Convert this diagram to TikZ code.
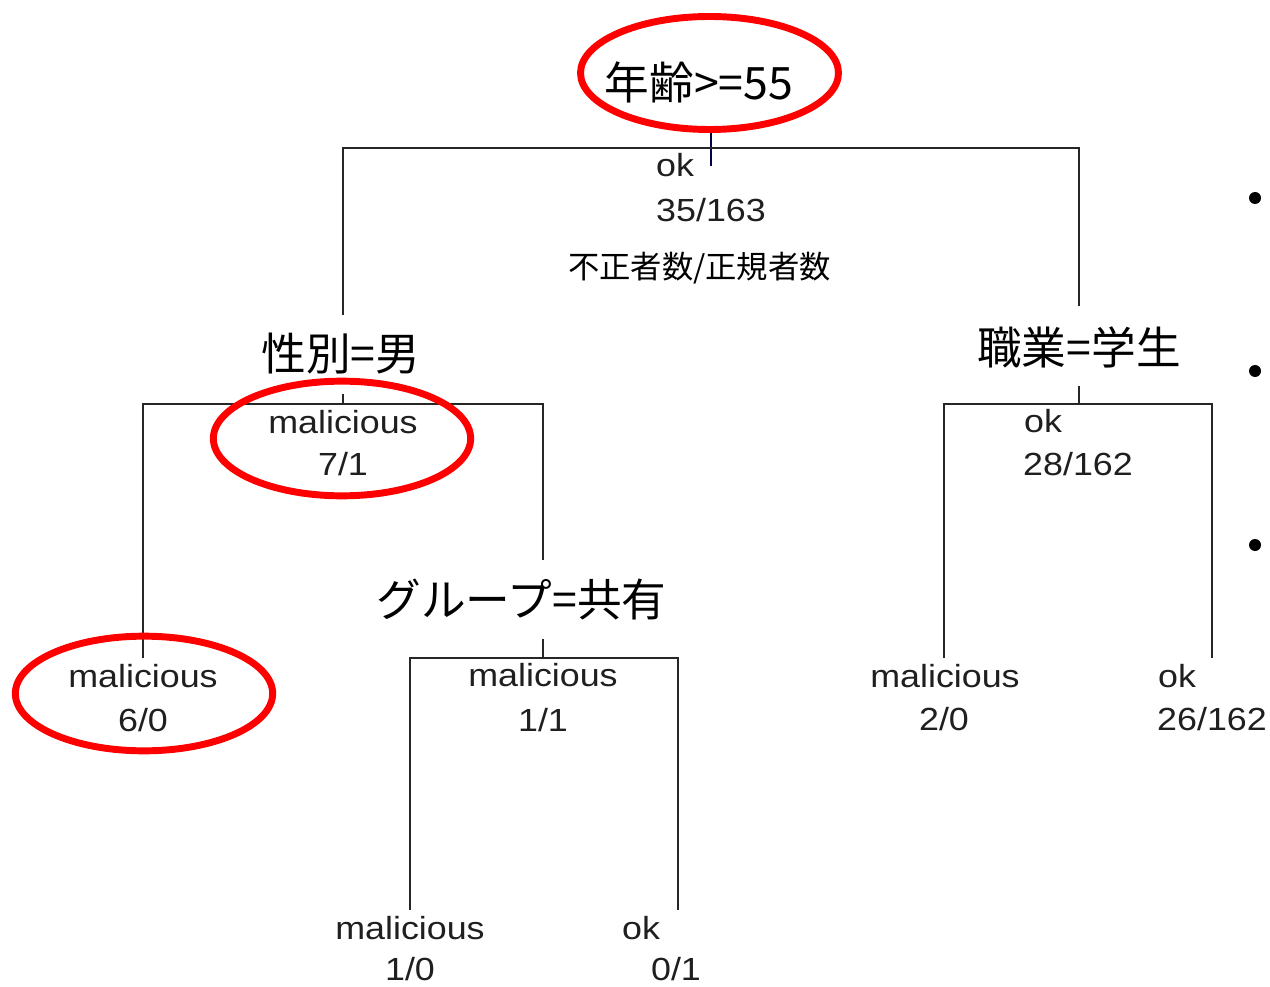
\documentclass[tikz,border=0pt]{standalone}
\usepackage{fontspec}
\setmainfont{Liberation Sans}
\newfontfamily\jpfont{Noto Sans CJK JP}
\usetikzlibrary{shapes.geometric}
\newcommand\wx[1]{\scalebox{1.12}[1]{#1}}
\begin{document}
\begin{tikzpicture}[x=0.75pt,y=-0.75pt,
  lbl/.style={anchor=base, inner sep=0pt, text=black!88, font=\fontsize{24}{28}\selectfont},
  splitlbl/.style={anchor=center, inner sep=0pt, font=\jpfont\fontsize{33.5}{40}\selectfont},
  notelbl/.style={anchor=center, inner sep=0pt, font=\jpfont\fontsize{23.5}{28}\selectfont},
  branch/.style={line width=1.1pt, draw=black!85},
  tick/.style={line width=1.1pt, draw=black!70!blue},
  hl/.style={draw=red, line width=5.2pt, ellipse, inner sep=0pt, minimum width=193pt, minimum height=86pt},
  dot/.style={circle, fill=black, inner sep=0pt, minimum size=9pt},
]
\useasboundingbox (0,0) rectangle (1270,987);

% ---- coordinates of the tree ----
\coordinate (rT) at (711,131);
\coordinate (rB) at (711,166);
\coordinate (rL) at (343,148);
\coordinate (rR) at (1079,148);
\coordinate (rLd) at (343,315);
\coordinate (rRd) at (1079,306);

\coordinate (sT) at (343,394);
\coordinate (sM) at (343,404);
\coordinate (sL) at (143,404);
\coordinate (sR) at (543,404);
\coordinate (sLd) at (143,658);
\coordinate (sRd) at (543,560);

\coordinate (gT) at (543,639);
\coordinate (gM) at (543,658);
\coordinate (gL) at (410,658);
\coordinate (gR) at (678,658);
\coordinate (gLd) at (410,910);
\coordinate (gRd) at (678,910);

\coordinate (jT) at (1079,386);
\coordinate (jM) at (1079,404);
\coordinate (jL) at (944,404);
\coordinate (jR) at (1212,404);
\coordinate (jLd) at (944,658);
\coordinate (jRd) at (1212,658);

% ---- branches ----
\draw[tick] (rT) -- (rB);
\draw[branch] (rLd) -- (rL) -- (rR) -- (rRd);
\draw[branch] (sT) -- (sM);
\draw[branch] (sLd) -- (sL) -- (sR) -- (sRd);
\draw[branch] (gT) -- (gM);
\draw[branch] (gLd) -- (gL) -- (gR) -- (gRd);
\draw[branch] (jT) -- (jM);
\draw[branch] (jLd) -- (jL) -- (jR) -- (jRd);

% ---- split labels ----
\node[splitlbl] (root) at (699,82.5) {年齢>=55};
\node[splitlbl] (sex) at (341,354) {性別=男};
\node[splitlbl] (job) at (1079,347) {職業=学生};
\node[splitlbl] (grp) at (521.5,600) {グループ=共有};
\node[notelbl] (note) at (699.5,268.5) {不正者数/正規者数};

% ---- class / count labels ----
\node[lbl] (c0) at (675,177) {\wx{ok}};
\node[lbl] (n0) at (711,222) {\wx{35/163}};
\node[lbl] (c1) at (343,433) {\wx{malicious}};
\node[lbl] (n1) at (343,475) {\wx{7/1}};
\node[lbl] (c2) at (143,687) {\wx{malicious}};
\node[lbl] (n2) at (143,731) {\wx{6/0}};
\node[lbl] (c3) at (543,686) {\wx{malicious}};
\node[lbl] (n3) at (543,731) {\wx{1/1}};
\node[lbl] (c4) at (410,939) {\wx{malicious}};
\node[lbl] (n4) at (410,980) {\wx{1/0}};
\node[lbl] (c5) at (641,939) {\wx{ok}};
\node[lbl] (n5) at (676,980) {\wx{0/1}};
\node[lbl] (c6) at (1043,432) {\wx{ok}};
\node[lbl] (n6) at (1078,475) {\wx{28/162}};
\node[lbl] (c7) at (945,687) {\wx{malicious}};
\node[lbl] (n7) at (944,730) {\wx{2/0}};
\node[lbl] (c8) at (1177,687) {\wx{ok}};
\node[lbl] (n8) at (1212,730) {\wx{26/162}};

% ---- bullets ----
\node[dot] (b1) at (1255,198) {};
\node[dot] (b2) at (1255,371) {};
\node[dot] (b3) at (1255,545) {};

% ---- red highlight ellipses ----
\node[hl, minimum width=193.5pt, minimum height=84.75pt] (e0) at (709.5,73) {};
\node[hl] (e1) at (342,438.5) {};
\node[hl] (e2) at (144,693.5) {};
\end{tikzpicture}
\end{document}
